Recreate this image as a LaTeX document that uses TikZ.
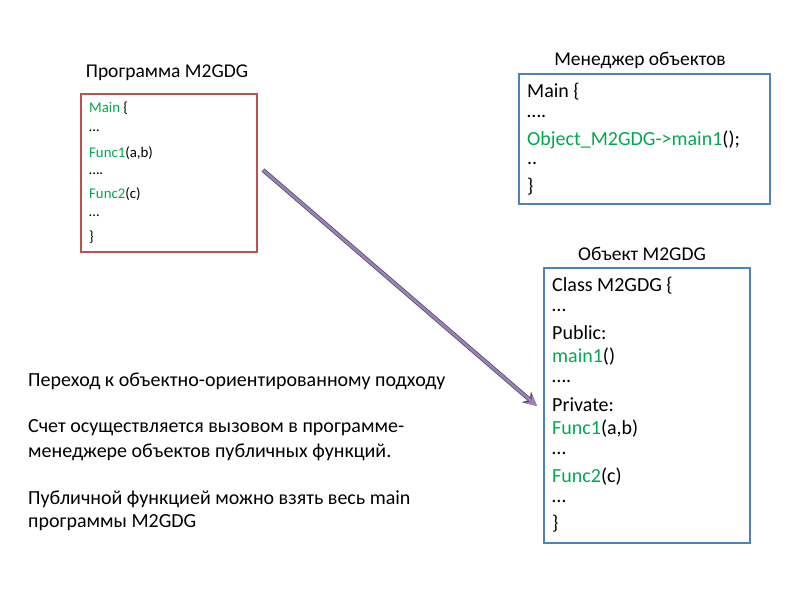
\documentclass[tikz,border=0pt]{standalone}
\usepackage{fontspec}
\setmainfont{Carlito}
\usetikzlibrary{arrows.meta}
\definecolor{grn}{RGB}{0,168,80}
\definecolor{redb}{RGB}{192,80,77}
\definecolor{blub}{RGB}{79,129,189}
\definecolor{purp}{RGB}{128,100,162}
\begin{document}
\begin{tikzpicture}[x=1pt,y=-1pt,
  ln/.style={anchor=west,inner sep=0pt,font=\fontsize{14.8}{16}\selectfont},
  lb/.style={anchor=west,inner sep=0pt,font=\fontsize{20}{22}\selectfont},
  ttl/.style={inner sep=0pt,font=\fontsize{19.5}{22}\selectfont}]
\useasboundingbox (0,0) rectangle (800,600);
% red box
\draw[redb,line width=1.5pt] (81,94) rectangle (257,252);
\node[ttl] (t1) at (167,73) {Программа M2GDG};
\node[ln] (r1) at (89,108) {\textcolor{grn}{Main} \{};
\node[ln] (r2) at (89,131) {…};
\node[ln] (r3) at (89,153) {\textcolor{grn}{Func1}(a,b)};
\node[ln] (r4) at (89,174) {….};
\node[ln] (r5) at (89,194) {\textcolor{grn}{Func2}(c)};
\node[ln] (r6) at (89,216) {…};
\node[ln] (r7) at (89,237) {\}};
% blue box 1
\draw[blub,line width=1.5pt] (519,74) rectangle (770,204);
\node[ttl] (t2) at (640,60) {Менеджер объектов};
\node[lb] (b1) at (527,92) {Main \{};
\node[lb] (b2) at (527,116) {….};
\node[lb] (b3) at (527,140) {\textcolor{grn}{Object\_M2GDG->main1}();};
\node[lb] (b4) at (527,163) {..};
\node[lb] (b5) at (527,187) {\}};
% blue box 2
\draw[blub,line width=1.5pt] (544,268) rectangle (750,543);
\node[ttl] (t3) at (642,254) {Объект M2GDG};
\node[lb] (c1) at (552,286) {Class M2GDG \{};
\node[lb] (c2) at (552,310) {…};
\node[lb] (c3) at (552,333) {Public:};
\node[lb] (c4) at (552,357) {\textcolor{grn}{main1}()};
\node[lb] (c5) at (552,381) {….};
\node[lb] (c6) at (552,405) {Private:};
\node[lb] (c7) at (552,429) {\textcolor{grn}{Func1}(a,b)};
\node[lb] (c8) at (552,453) {…};
\node[lb] (c9) at (552,477) {\textcolor{grn}{Func2}(c)};
\node[lb] (c10) at (552,501) {…};
\node[lb] (c11) at (552,524) {\}};
% arrow
\coordinate (a0) at (263,170);
\coordinate (a1) at (537,406);
\draw[purp!70!black,line width=4.2pt,-{Stealth[length=14pt,width=14pt]}] (a0) -- (a1);
\draw[purp!80!white,line width=2.6pt,-{Stealth[length=11pt,width=11pt]}] (a0) -- (a1);
% left text
\node[lb] (l1) at (28,381) {Переход к объектно-ориентированному подходу};
\node[lb] (l2) at (28,428) {Счет осуществляется вызовом в программе-};
\node[lb] (l3) at (28,452) {менеджере объектов публичных функций.};
\node[lb] (l4) at (28,499) {Публичной функцией можно взять весь main};
\node[lb] (l5) at (28,523) {программы M2GDG};
\end{tikzpicture}
\end{document}
